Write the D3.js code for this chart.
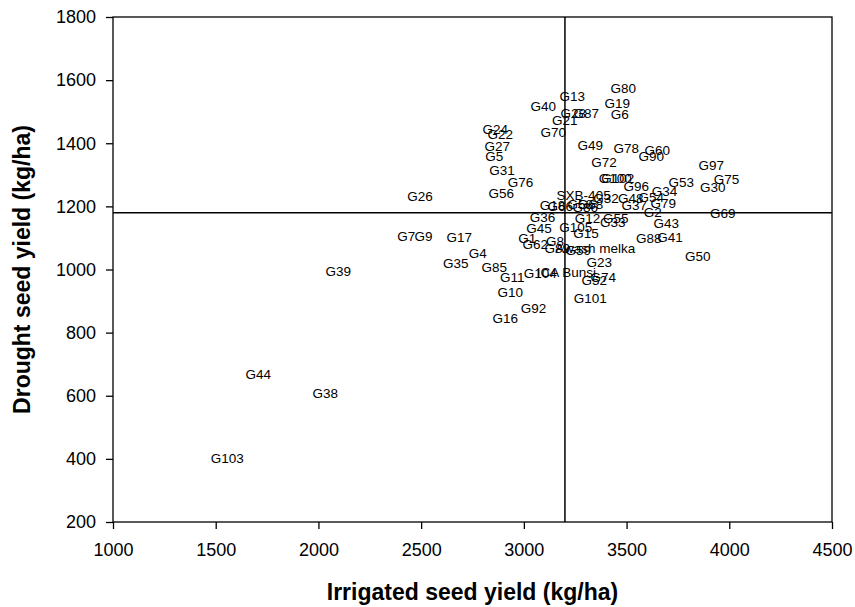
<!DOCTYPE html>
<html>
<head>
<meta charset="utf-8">
<script src="https://cdn.jsdelivr.net/npm/d3@7"></script>
<style>
  body { margin: 0; background: #fff; }
  svg { display: block; font-family: "Liberation Sans", Arial, sans-serif; }
</style>
</head>
<body>
<div id="chart"></div>
<script>
//genotype names
const genotypes = [
  "G80", "G13", "G40", "G19", "G28", "G87", "G6", "G21", "G70", "G49",
  "G78", "G60", "G90", "G72", "G76", "G100", "G102", "G53", "G96", "G34",
  "SXB-405", "G48", "G54", "G32", "G37", "G79", "G2", "G75", "G97", "G30",
  "G69", "G36", "G12", "G55", "G33", "G43", "G45", "G105", "G15", "G88",
  "G41", "G1", "G62", "G8", "G18", "G66", "G58", "G86", "G68", "G89",
  "G59", "Awash melka", "G23", "G104", "ICA Bunsi", "G11", "G52", "G74", "G10", "G101",
  "G92", "G16", "G85", "G35", "G4", "G17", "G7", "G9", "G26", "G24",
  "G22", "G27", "G5", "G31", "G56", "G39", "G44", "G38", "G103", "G50"
];

//irrigated seed yield (kg/ha)
const irrigated = [
  3484, 3236, 3095, 3455, 3241, 3304, 3467, 3199, 3143, 3323,
  3499, 3650, 3620, 3390, 2984, 3445, 3457, 3766, 3547, 3685,
  3291, 3521, 3620, 3400, 3538, 3679, 3627, 3986, 3912, 3920,
  3968, 3091, 3310, 3447, 3433, 3693, 3074, 3253, 3302, 3608,
  3711, 3017, 3056, 3152, 3139, 3177, 3275, 3299, 3324, 3163,
  3265, 3348, 3367, 3080, 3207, 2944, 3343, 3387, 2934, 3323,
  3047, 2910, 2856, 2669, 2776, 2685, 2427, 2511, 2494, 2861,
  2885, 2870, 2856, 2894, 2890, 2097, 1707, 2033, 1556, 3847
];

//drought seed yield (kg/ha)
const drought = [
  1576, 1550, 1518, 1526, 1494, 1495, 1491, 1473, 1436, 1395,
  1385, 1377, 1358, 1340, 1278, 1291, 1291, 1278, 1264, 1249,
  1236, 1226, 1230, 1225, 1203, 1209, 1183, 1287, 1332, 1260,
  1179, 1167, 1162, 1162, 1151, 1147, 1130, 1135, 1114, 1098,
  1102, 1099, 1080, 1090, 1204, 1200, 1207, 1199, 1207, 1068,
  1061, 1068, 1024, 989, 992, 976, 967, 975, 929, 910,
  878, 847, 1006, 1019, 1052, 1103, 1107, 1106, 1234, 1445,
  1429, 1391, 1359, 1314, 1242, 995, 670, 607, 401, 1042
];

//axis ticks and the two mean lines
const xTicks = [1000, 1500, 2000, 2500, 3000, 3500, 4000, 4500];
const yTicks = [200, 400, 600, 800, 1000, 1200, 1400, 1600, 1800];
const meanIrrigated = 3200;
const meanDrought = 1180;

const width = 855;
const height = 607;
const margin = { top: 17, right: 23, bottom: 85, left: 113 };
const innerwidth = width - margin.left - margin.right;
const innerheight = height - margin.top - margin.bottom;

const points = genotypes.map(function (g, i) {
  return { name: g, x: irrigated[i], y: drought[i] };
});

const x = d3.scaleLinear().domain([1000, 4500]).range([0, innerwidth]);
const y = d3.scaleLinear().domain([200, 1800]).range([innerheight, 0]);

const svg = d3.select("#chart")
  .append("svg")
  .attr("width", width)
  .attr("height", height)
  .append("g")
  .attr("transform", "translate(" + margin.left + "," + margin.top + ")");

//axes, plain numbers without thousands separator
const xAxis = svg.append("g")
  .attr("transform", "translate(0," + innerheight + ")")
  .call(d3.axisBottom(x).tickValues(xTicks).tickFormat(d3.format("d"))
    .tickSize(7).tickSizeOuter(0).tickPadding(14));

const yAxis = svg.append("g")
  .call(d3.axisLeft(y).tickValues(yTicks).tickFormat(d3.format("d"))
    .tickSize(7).tickSizeOuter(0).tickPadding(10));

[xAxis, yAxis].forEach(function (a) {
  a.select(".domain").remove();
  a.selectAll("line").attr("stroke", "#000").attr("stroke-width", 1.3);
  a.selectAll("text")
    .attr("fill", "#000")
    .style("font-size", "18px")
    .style("font-family", "'Liberation Sans', Arial, sans-serif");
});

//plot frame
svg.append("rect")
  .attr("x", 0)
  .attr("y", 0)
  .attr("width", innerwidth)
  .attr("height", innerheight)
  .attr("fill", "none")
  .attr("stroke", "#000")
  .attr("stroke-width", 1.3);

//mean lines
svg.append("line")
  .attr("x1", x(meanIrrigated))
  .attr("x2", x(meanIrrigated))
  .attr("y1", y(200))
  .attr("y2", y(1800))
  .attr("stroke", "#000")
  .attr("stroke-width", 1.5);

svg.append("line")
  .attr("x1", x(1000))
  .attr("x2", x(4500))
  .attr("y1", y(meanDrought))
  .attr("y2", y(meanDrought))
  .attr("stroke", "#000")
  .attr("stroke-width", 1.5);

//genotype labels, no markers
svg.selectAll(".lbl")
  .data(points)
  .enter()
  .append("text")
  .attr("class", "lbl")
  .attr("x", function (d) { return x(d.x); })
  .attr("y", function (d) { return y(d.y); })
  .attr("dy", "0.36em")
  .attr("text-anchor", "middle")
  .style("font-size", "13.5px")
  .attr("fill", "#000")
  .text(function (d) { return d.name; });

//axis titles
svg.append("text")
  .attr("x", innerwidth / 2)
  .attr("y", innerheight + 78)
  .attr("text-anchor", "middle")
  .style("font-size", "23px")
  .style("font-weight", "bold")
  .text("Irrigated seed yield (kg/ha)");

svg.append("text")
  .attr("transform", "rotate(-90)")
  .attr("x", -innerheight / 2)
  .attr("y", -83)
  .attr("text-anchor", "middle")
  .style("font-size", "23px")
  .style("font-weight", "bold")
  .text("Drought seed yield (kg/ha)");
</script>
</body>
</html>
